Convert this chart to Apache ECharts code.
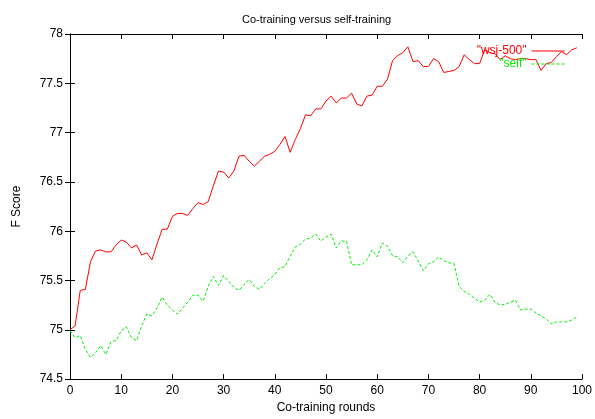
<!DOCTYPE html>
<html>
<head>
<meta charset="utf-8">
<script src="https://cdn.jsdelivr.net/npm/echarts@6/dist/echarts.min.js"></script>
<style>
  html, body { margin: 0; padding: 0; background: #fff; }
  #chart { width: 595px; height: 419px; }
</style>
</head>
<body>
<div id="chart"></div>
<script>
  // F score per co-training round (round = array index, 0..99)
  const wsj500 = [
    75.00, 75.04, 75.40, 75.41, 75.69, 75.80, 75.81, 75.79, 75.79, 75.86,
    75.91, 75.89, 75.83, 75.86, 75.76, 75.78, 75.71, 75.87, 76.02, 76.02,
    76.15, 76.18, 76.18, 76.16, 76.23, 76.29, 76.27, 76.30, 76.46, 76.61,
    76.60, 76.54, 76.61, 76.76, 76.77, 76.71, 76.66, 76.71, 76.76, 76.78,
    76.81, 76.88, 76.96, 76.80, 76.93, 77.04, 77.18, 77.17, 77.24, 77.24,
    77.32, 77.37, 77.30, 77.35, 77.35, 77.40, 77.29, 77.27, 77.37, 77.38,
    77.47, 77.47, 77.54, 77.73, 77.78, 77.81, 77.87, 77.72, 77.73, 77.67,
    77.67, 77.75, 77.72, 77.61, 77.62, 77.63, 77.67, 77.79, 77.74, 77.70,
    77.70, 77.84, 77.81, 77.80, 77.74, 77.78, 77.75, 77.74, 77.75, 77.75,
    77.74, 77.74, 77.63, 77.70, 77.71, 77.77, 77.82, 77.79, 77.84, 77.86
  ];
  const self = [
    74.99, 74.92, 74.94, 74.80, 74.72, 74.77, 74.84, 74.75, 74.88, 74.89,
    74.99, 75.03, 74.92, 74.89, 75.04, 75.16, 75.14, 75.22, 75.33, 75.25,
    75.20, 75.16, 75.22, 75.28, 75.35, 75.35, 75.29, 75.44, 75.54, 75.45,
    75.55, 75.49, 75.43, 75.40, 75.46, 75.51, 75.44, 75.41, 75.47, 75.52,
    75.56, 75.63, 75.64, 75.75, 75.84, 75.87, 75.92, 75.93, 75.97, 75.90,
    75.94, 75.97, 75.83, 75.90, 75.90, 75.66, 75.66, 75.66, 75.71, 75.81,
    75.74, 75.88, 75.85, 75.75, 75.74, 75.68, 75.75, 75.79, 75.70, 75.60,
    75.67, 75.69, 75.74, 75.70, 75.68, 75.67, 75.44, 75.39, 75.36, 75.32,
    75.28, 75.30, 75.36, 75.28, 75.25, 75.26, 75.28, 75.30, 75.20, 75.21,
    75.21, 75.17, 75.14, 75.11, 75.06, 75.08, 75.08, 75.08, 75.10, 75.13
  ];
  const seriesNames = ['"wsj-500"', '"self"'];
  const seriesColors = ['#ff0000', '#00ee00'];

  const font = 'Liberation Sans, Arial, sans-serif';
  const chart = echarts.init(document.getElementById('chart'));

  // gnuplot-like: ticks inside on all four sides
  const tickStyle = { show: true, inside: true, length: 5, lineStyle: { color: '#000' } };
  const lineStyle = { show: true, lineStyle: { color: '#000', width: 1 } };

  chart.setOption({
    animation: false,
    backgroundColor: '#fff',
    title: {
      text: 'Co-training versus self-training',
      left: 237,
      top: 9,
      textStyle: { fontFamily: font, fontSize: 11, fontWeight: 'normal', color: '#000' }
    },
    legend: {
      orient: 'vertical',
      right: 25,
      top: 40,
      align: 'right',
      itemWidth: 33,
      itemHeight: 10,
      itemGap: 1,
      itemStyle: { opacity: 0 },
      lineStyle: { width: 1 },
      data: seriesNames.map((n, i) => ({
        name: n,
        textStyle: { color: seriesColors[i], fontFamily: font, fontSize: 12, lineHeight: 10 }
      }))
    },
    grid: { left: 70, right: 12, top: 34, bottom: 35 },
    xAxis: [
      {
        type: 'value', min: 0, max: 100, interval: 10,
        name: 'Co-training rounds', nameLocation: 'middle', nameGap: 21,
        nameTextStyle: { fontFamily: font, fontSize: 12, color: '#000' },
        axisLine: lineStyle, axisTick: tickStyle, splitLine: { show: false },
        axisLabel: { fontFamily: font, fontSize: 12, color: '#000', margin: 6 }
      },
      {
        type: 'value', min: 0, max: 100, interval: 10, position: 'top',
        axisLine: lineStyle, axisTick: tickStyle, splitLine: { show: false },
        axisLabel: { show: false }
      }
    ],
    yAxis: [
      {
        type: 'value', min: 74.5, max: 78, interval: 0.5,
        name: 'F Score', nameLocation: 'middle', nameGap: 47,
        nameTextStyle: { fontFamily: font, fontSize: 12, color: '#000' },
        axisLine: lineStyle, axisTick: tickStyle, splitLine: { show: false },
        axisLabel: { fontFamily: font, fontSize: 12, color: '#000', margin: 7 }
      },
      {
        type: 'value', min: 74.5, max: 78, interval: 0.5, position: 'right',
        axisLine: lineStyle, axisTick: tickStyle, splitLine: { show: false },
        axisLabel: { show: false }
      }
    ],
    series: [
      {
        name: seriesNames[0],
        type: 'line',
        data: wsj500.map((v, i) => [i, v]),
        symbol: 'none',
        lineStyle: { color: seriesColors[0], width: 1 },
        itemStyle: { color: seriesColors[0] }
      },
      {
        name: seriesNames[1],
        type: 'line',
        data: self.map((v, i) => [i, v]),
        symbol: 'none',
        lineStyle: { color: seriesColors[1], width: 1, type: [3, 2] },
        itemStyle: { color: seriesColors[1] }
      }
    ]
  });
</script>
</body>
</html>
